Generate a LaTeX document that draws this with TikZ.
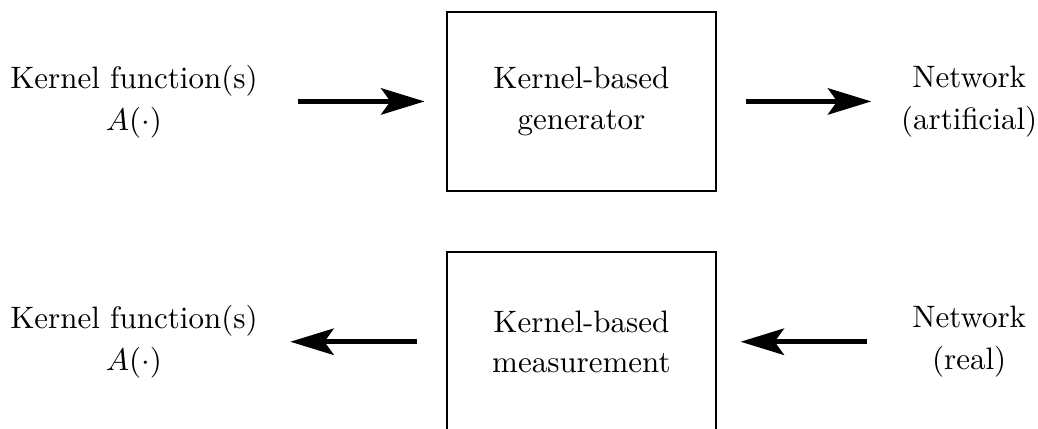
\documentclass[tikz,border=0pt]{standalone}
\usepackage{amsmath}
\usetikzlibrary{arrows.meta,positioning}

\begin{document}
\begin{tikzpicture}
\tikzstyle{block}=[draw, line width=0.5pt, minimum width=3.05cm, minimum height=2.03cm, align=center]
\tikzstyle{label}=[align=center]
\tikzstyle{flow}=[line width=1.6pt, -{Stealth[length=14pt, width=8.5pt, inset=3pt]}, shorten <=9.4pt, shorten >=7pt]

\useasboundingbox (0,0) rectangle (11.77,-4.864);

% generation
\node[label] (kin) at (1.519,-1.15) {Kernel function(s)\\[1.5pt] $A(\cdot)$};
\node[block] (gen) at (6.593,-1.15) {Kernel-based\\[1pt] generator};
\node[label] (art) at (10.99,-1.15) {Network\\[1.5pt] (artificial)};
\draw[flow] (kin) -- (gen);
\draw[flow, shorten >=6.1pt] (gen) -- (art);

% measurement
\node[label] (kout) at (1.519,-3.875) {Kernel function(s)\\[1.5pt] $A(\cdot)$};
\node[block] (meas) at (6.593,-3.875) {Kernel-based\\[1pt] measurement};
\node[label] (real) at (10.99,-3.875) {Network\\[1.5pt] (real)};
\draw[flow] (meas) -- (kout);
\draw[flow, shorten <=11pt, shorten >=7.7pt] (real) -- (meas);
\end{tikzpicture}
\end{document}
